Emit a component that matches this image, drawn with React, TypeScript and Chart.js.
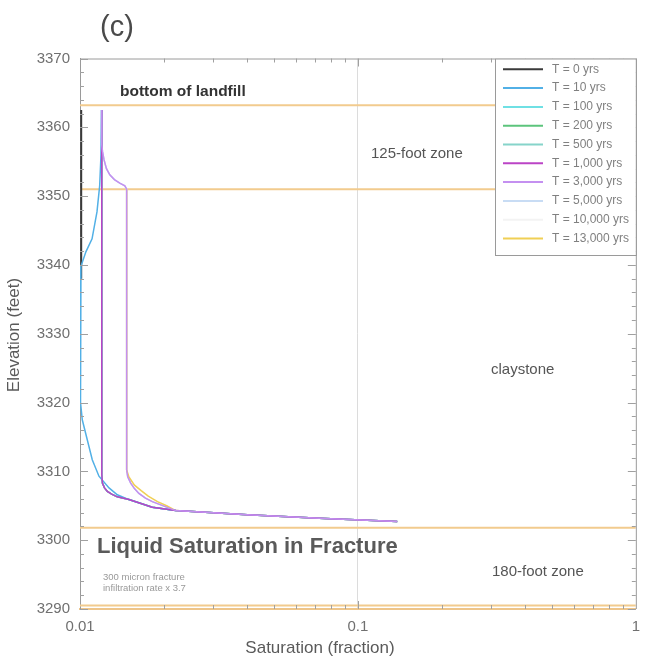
import React, { useEffect, useRef } from "react";
import { Chart, registerables } from "chart.js";

Chart.register(...registerables);

// ---------- DATA ----------
const seriesLabels = [
  "T = 0 yrs",
  "T = 10 yrs",
  "T = 100 yrs",
  "T = 200 yrs",
  "T = 500 yrs",
  "T = 1,000 yrs",
  "T = 3,000 yrs",
  "T = 5,000 yrs",
  "T = 10,000 yrs",
  "T = 13,000 yrs",
];
const seriesColors = [
  "#3a3a3a",
  "#52b0e6",
  "#6fe0e4",
  "#5cc47c",
  "#86d4ca",
  "#bb44c6",
  "#c490f0",
  "#c8dcf4",
  "#f3f3f3",
  "#f0cf55",
];

const xTickValues = [0.01, 0.1, 1];
const xTickLabels = ["0.01", "0.1", "1"];
const yTickStep = 10;

// T = 0
const t0Sat = [0.0101, 0.0101];
const t0Elev = [3362.5, 3338];

// T = 10
const t10Sat = [
  0.01195, 0.0119, 0.01177, 0.01151, 0.01105, 0.0105, 0.01008, 0.01002, 0.01003,
  0.01008, 0.01019, 0.01062, 0.01107, 0.0117, 0.01272, 0.01362, 0.015, 0.0182,
  0.0221, 0.04, 0.0725, 0.1385,
];
const t10Elev = [
  3362.5, 3356, 3351.5, 3347.7, 3343.8, 3341.9, 3339.8, 3335, 3325, 3320, 3317.5,
  3314.6, 3311.7, 3309.3, 3307.6, 3306.6, 3305.9, 3304.8, 3304.3, 3303.7, 3303.2,
  3302.7,
];

// T = 1,000 (T = 100, 200, 500 lie beneath it)
const t1000Sat = [
  0.01197, 0.01197, 0.01199, 0.01204, 0.01225, 0.01254, 0.013, 0.01362, 0.015,
  0.0182, 0.0221, 0.04, 0.0725, 0.1385,
];
const t1000Elev = [
  3362.5, 3310.5, 3309.5, 3308.3, 3307.6, 3307.1, 3306.7, 3306.3, 3305.9, 3304.8,
  3304.3, 3303.7, 3303.2, 3302.7,
];

// T = 3,000 (T = 5,000, 10,000 lie beneath it)
const t3000Sat = [
  0.01197, 0.01197, 0.01205, 0.0122, 0.01245, 0.0128, 0.0133, 0.0139, 0.0145,
  0.01472, 0.01472, 0.01485, 0.01522, 0.0157, 0.01629, 0.0172, 0.0182, 0.0221,
  0.04, 0.0725, 0.1385,
];
const t3000Elev = [
  3362.5, 3357.5, 3356.5, 3355.3, 3354.0, 3353.1, 3352.4, 3351.9, 3351.5, 3351.0,
  3310.2, 3309.2, 3308.3, 3307.5, 3306.8, 3306.1, 3305.6, 3304.3, 3303.7, 3303.2,
  3302.7,
];

// T = 13,000
const t13000Sat = [
  0.01472, 0.01472, 0.015, 0.0157, 0.0166, 0.0176, 0.019, 0.0205, 0.0221, 0.04,
  0.0725, 0.1385,
];
const t13000Elev = [
  3351.0, 3310.2, 3309.2, 3308.0, 3307.2, 3306.4, 3305.6, 3305.0, 3304.3, 3303.7,
  3303.2, 3302.7,
];

// horizontal zone boundaries (elevation, ft)
const zoneElev = [3363.2, 3351.0, 3301.8, 3290.5];

const profileSat = [t0Sat, t10Sat, t1000Sat, t1000Sat, t1000Sat, t1000Sat, t3000Sat, t3000Sat, t3000Sat, t13000Sat];
const profileElev = [t0Elev, t10Elev, t1000Elev, t1000Elev, t1000Elev, t1000Elev, t3000Elev, t3000Elev, t3000Elev, t13000Elev];
const drawOrder = [50, 20, 40, 40, 40, 10, 5, 45, 46, 30];

const FONT = "'Liberation Sans', Arial, Helvetica, sans-serif";

const pts = (xs: number[], ys: number[]) => xs.map((x, i) => ({ x, y: ys[i] }));

const decorPlugin = {
  id: "decor",
  afterDraw(chart: any) {
    const { ctx, chartArea, scales } = chart;
    const { left, right, top, bottom } = chartArea;
    const xs = scales.x;
    const ys = scales.y;
    ctx.save();
    // top & right borders
    ctx.strokeStyle = "#9a9a9a";
    ctx.lineWidth = 1;
    ctx.beginPath();
    ctx.moveTo(left, top + 0.5);
    ctx.lineTo(right, top + 0.5);
    ctx.moveTo(right + 0.5, top);
    ctx.lineTo(right + 0.5, bottom);
    ctx.stroke();

    // inner ticks y
    ctx.strokeStyle = "#a0a0a0";
    ctx.beginPath();
    for (let v = 3290; v <= 3370; v += 2) {
      const y = Math.round(ys.getPixelForValue(v)) + 0.5;
      const len = v % 10 === 0 ? 8 : 4;
      ctx.moveTo(left, y);
      ctx.lineTo(left + len, y);
      ctx.moveTo(right, y);
      ctx.lineTo(right - len, y);
    }
    // inner ticks x
    for (const dec of [0.01, 0.1]) {
      for (let m = 1; m <= 9; m++) {
        if (dec === 0.01 && m === 1) continue;
        const v = dec * m;
        const x = Math.round(xs.getPixelForValue(v)) + 0.5;
        const len = m === 1 ? 8 : 4;
        ctx.moveTo(x, bottom);
        ctx.lineTo(x, bottom - len);
        ctx.moveTo(x, top);
        ctx.lineTo(x, top + len);
      }
    }
    ctx.stroke();

    // texts
    ctx.textBaseline = "middle";
    ctx.textAlign = "left";
    ctx.fillStyle = "#4a4a4a";
    ctx.font = `29px ${FONT}`;
    ctx.fillText("(c)", 100, 28);

    ctx.fillStyle = "#333";
    ctx.font = `bold 15.5px ${FONT}`;
    ctx.fillText("bottom of landfill", 120, 92);

    ctx.fillStyle = "#555";
    ctx.font = `15px ${FONT}`;
    ctx.fillText("125-foot zone", 371, 154);
    ctx.fillText("claystone", 491, 370);
    ctx.fillText("180-foot zone", 492, 572);

    ctx.fillStyle = "#5a5a5a";
    ctx.font = `bold 22px ${FONT}`;
    ctx.fillText("Liquid Saturation in Fracture", 97, 547);

    ctx.fillStyle = "#999";
    ctx.font = `9.5px ${FONT}`;
    ctx.fillText("300 micron fracture", 103, 577);
    ctx.fillText("infiltration rate x 3.7", 103, 588);

    // axis titles
    ctx.fillStyle = "#5a5a5a";
    ctx.font = `17px ${FONT}`;
    ctx.textAlign = "center";
    ctx.fillText("Saturation (fraction)", 320, 648);
    ctx.save();
    ctx.translate(14, 335);
    ctx.rotate(-Math.PI / 2);
    ctx.fillText("Elevation (feet)", 0, 0);
    ctx.restore();

    // legend
    const lx = 495, ly = top, lw = right - 495, lh = 255 - top;
    ctx.fillStyle = "#ffffff";
    ctx.fillRect(lx, ly, lw, lh);
    ctx.strokeStyle = "#9a9a9a";
    ctx.lineWidth = 1;
    ctx.strokeRect(lx + 0.5, ly + 0.5, lw, lh);
    ctx.textAlign = "left";
    ctx.font = `12px ${FONT}`;
    seriesLabels.forEach((lab, i) => {
      const y = 69.3 + i * 18.8;
      ctx.strokeStyle = seriesColors[i];
      ctx.lineWidth = 2;
      ctx.beginPath();
      ctx.moveTo(503, y);
      ctx.lineTo(543, y);
      ctx.stroke();
      ctx.fillStyle = "#808080";
      ctx.fillText(lab, 552, y);
    });
    ctx.restore();
  },
};

export default function App() {
  const ref = useRef<HTMLCanvasElement>(null);
  useEffect(() => {
    const canvas = ref.current!;
    const datasets: any[] = [];
    zoneElev.forEach((e) => {
      datasets.push({
        label: "zone",
        data: [
          { x: 0.01, y: e },
          { x: 1, y: e },
        ],
        borderColor: "#f2cb8e",
        borderWidth: 2,
        pointRadius: 0,
        showLine: true,
        order: 100,
      });
    });
    seriesLabels.forEach((lab, i) => {
      datasets.push({
        label: lab,
        data: pts(profileSat[i], profileElev[i]),
        borderColor: seriesColors[i],
        borderWidth: i === 0 ? 2 : 1.5,
        pointRadius: 0,
        showLine: true,
        tension: 0,
        order: drawOrder[i],
      });
    });

    const chart = new Chart(canvas, {
      type: "scatter",
      data: { datasets },
      plugins: [decorPlugin],
      options: {
        animation: false,
        responsive: false,
        devicePixelRatio: 1,
        layout: { padding: { top: 58.5, right: 10, left: 0, bottom: 0 } },
        plugins: {
          legend: { display: false },
          tooltip: { enabled: false },
          title: { display: false },
        },
        scales: {
          x: {
            type: "logarithmic",
            min: 0.01,
            max: 1,
            afterBuildTicks: (s: any) => {
              s.ticks = xTickValues.map((v) => ({ value: v }));
            },
            afterFit: (s: any) => {
              s.height = 57;
            },
            ticks: {
              autoSkip: false,
              maxRotation: 0,
              padding: 9,
              color: "#707070",
              font: { family: FONT, size: 15 },
              callback: (v: any) => {
                const k = xTickValues.indexOf(Number(v));
                return k >= 0 ? xTickLabels[k] : "";
              },
            },
            grid: {
              drawTicks: false,
              color: (c: any) => (c.tick && c.tick.value === 0.1 ? "#dcdcdc" : "rgba(0,0,0,0)"),
              lineWidth: 1,
            },
            border: { display: true, color: "#eec58a", width: 2 },
          },
          y: {
            type: "linear",
            min: 3290,
            max: 3370,
            afterFit: (s: any) => {
              s.width = 80;
            },
            ticks: {
              stepSize: yTickStep,
              padding: 10,
              color: "#707070",
              font: { family: FONT, size: 15 },
              callback: (v: any) => String(v),
            },
            grid: { display: false, drawTicks: false },
            border: { display: true, color: "#9a9a9a", width: 1 },
          },
        },
      },
    } as any);
    return () => chart.destroy();
  }, []);

  return (
    <div
      style={{
        position: "fixed",
        left: 0,
        top: 0,
        width: 649,
        height: 666,
        background: "#ffffff",
      }}
    >
      <canvas ref={ref} width={649} height={666} style={{ display: "block", width: 649, height: 666 }} />
    </div>
  );
}
